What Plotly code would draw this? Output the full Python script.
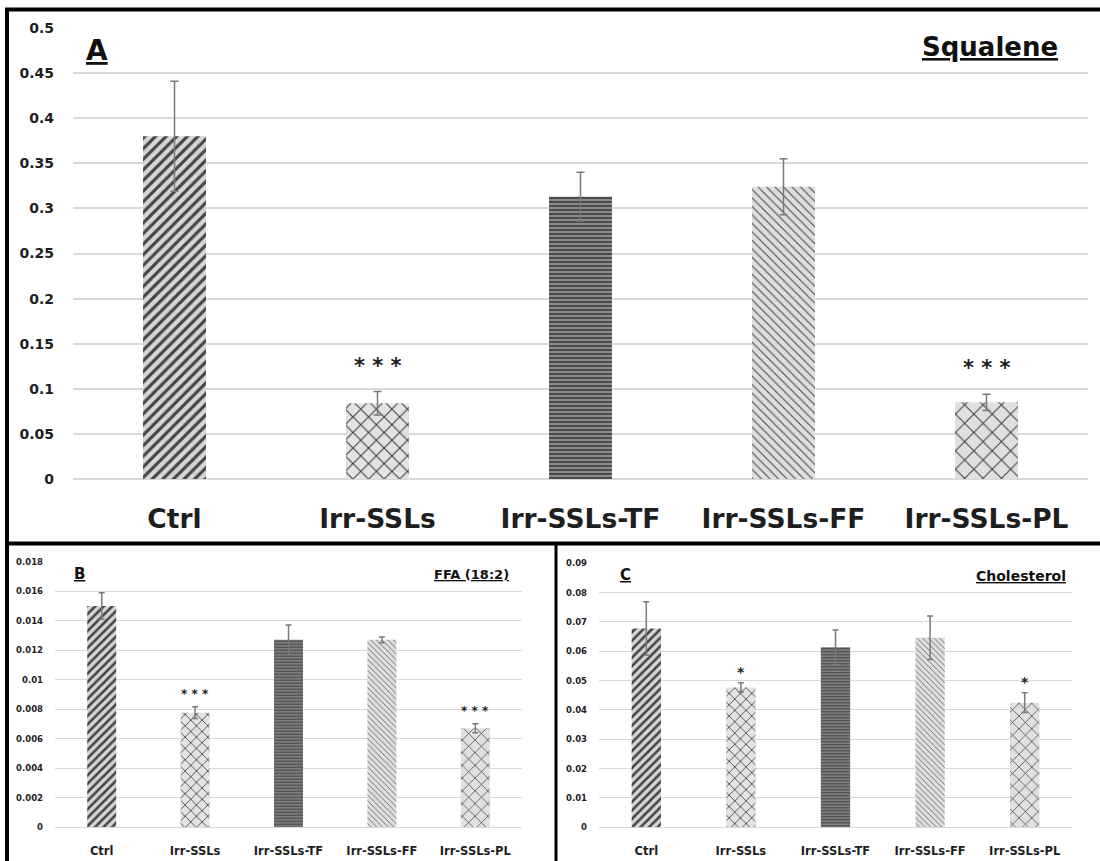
import plotly.graph_objects as go

# ---------------- data ----------------
categories = ["Ctrl", "Irr-SSLs", "Irr-SSLs-TF", "Irr-SSLs-FF", "Irr-SSLs-PL"]

squalene = [0.380, 0.084, 0.313, 0.324, 0.085]
squalene_err = [0.061, 0.013, 0.027, 0.031, 0.009]

ffa = [0.0150, 0.00776, 0.0127, 0.0127, 0.0067]
ffa_err = [0.0009, 0.0004, 0.0010, 0.0002, 0.0003]

chol = [0.0678, 0.0477, 0.0614, 0.0646, 0.0425]
chol_err = [0.0091, 0.0016, 0.0059, 0.0074, 0.0034]

sig_a = ["", "* * *", "", "", "* * *"]
sig_b = ["", "* * *", "", "", "* * *"]
sig_c = ["", "*", "", "", "*"]

ticks_a = [0, 0.05, 0.1, 0.15, 0.2, 0.25, 0.3, 0.35, 0.4, 0.45, 0.5]
ticktext_a = ["0", "0.05", "0.1", "0.15", "0.2", "0.25", "0.3", "0.35", "0.4", "0.45", "0.5"]
ticks_b = [0, 0.002, 0.004, 0.006, 0.008, 0.01, 0.012, 0.014, 0.016, 0.018]
ticktext_b = ["0", "0.002", "0.004", "0.006", "0.008", "0.01", "0.012", "0.014", "0.016", "0.018"]
ticks_c = [0, 0.01, 0.02, 0.03, 0.04, 0.05, 0.06, 0.07, 0.08, 0.09]
ticktext_c = ["0", "0.01", "0.02", "0.03", "0.04", "0.05", "0.06", "0.07", "0.08", "0.09"]

# ---------------- styles ----------------
FONT = "DejaVu Sans"
TXT = "#1e1e1e"
pat_shape = ["/", "x", "-", "\\", "x"]
pat_fg = ["#111111", "#5c5c5c", "#3a3a3a", "#7a7a7a", "#5a5a5a"]
pat_bg = ["#d6d6d6", "#e3e3e3", "#8a8a8a", "#dedede", "#e0e0e0"]
pat_sol = [0.42, 0.2, 0.45, 0.17, 0.16]

W, H = 1100, 861
OFF, S = 8, 0.9814   # vertical placement correction of the photographed page


def px(xp):
    return xp / W


def py(yp):
    return 1 - ((yp - OFF) / S) / H


fig = go.Figure()

panels = [
    dict(vals=squalene, err=squalene_err, sig=sig_a, ax="", sizes=[7.5, 11, 4, 6, 13], ew=4, sigsize=21, sigshift=12),
    dict(vals=ffa, err=ffa_err, sig=sig_b, ax="2", sizes=[6, 8, 3, 4, 9], ew=3, sigsize=12, sigshift=4),
    dict(vals=chol, err=chol_err, sig=sig_c, ax="3", sizes=[6, 8, 3, 4, 9], ew=3, sigsize=14, sigshift=1),
]

for p in panels:
    fig.add_trace(go.Bar(
        x=categories, y=p["vals"],
        xaxis="x" + p["ax"], yaxis="y" + p["ax"],
        width=0.31,
        marker=dict(
            color=pat_bg,
            line=dict(width=0),
            pattern=dict(shape=pat_shape, fgcolor=pat_fg, bgcolor=pat_bg, fgopacity=1,
                         size=p["sizes"], solidity=pat_sol, fillmode="overlay"),
        ),
        error_y=dict(type="data", array=p["err"], visible=True,
                     color="#7a7a7a", thickness=1.5, width=p["ew"]),
        showlegend=False,
        hoverinfo="skip",
    ))
    for c, v, e, s in zip(categories, p["vals"], p["err"], p["sig"]):
        if s:
            fig.add_annotation(x=c, y=v + e, xref="x" + p["ax"], yref="y" + p["ax"],
                               text="<b>" + s + "</b>", showarrow=False, yanchor="bottom",
                               yshift=p["sigshift"],
                               font=dict(family=FONT, size=p["sigsize"], color=TXT))

grid = "#d9d9d9"

fig.update_layout(
    width=W, height=H,
    margin=dict(l=0, r=0, t=0, b=0),
    paper_bgcolor="white", plot_bgcolor="white",
    font=dict(family=FONT, color=TXT),
    xaxis=dict(domain=[px(73), px(1088)], anchor="y",
               tickfont=dict(family=FONT, size=26.5, color=TXT, weight="bold"),
               ticklabelstandoff=21, showgrid=False, showline=False, ticks=""),
    yaxis=dict(domain=[py(479), py(28)], anchor="x", range=[0, 0.5],
               tickvals=ticks_a, ticktext=ticktext_a,
               tickfont=dict(family=FONT, size=14, color=TXT, weight="bold"),
               ticklabelstandoff=18, gridcolor=grid, gridwidth=1.5,
               zeroline=True, zerolinecolor=grid, zerolinewidth=1.5, showline=False),
    xaxis2=dict(domain=[px(55), px(522)], anchor="y2",
                tickfont=dict(family=FONT, size=11.5, color=TXT, weight="bold"),
                ticklabelstandoff=15, showgrid=False, showline=False, ticks=""),
    yaxis2=dict(domain=[py(827), py(561.7)], anchor="x2", range=[0, 0.018],
                tickvals=ticks_b, ticktext=ticktext_b,
                tickfont=dict(family=FONT, size=8.5, color=TXT, weight="bold"),
                ticklabelstandoff=11, gridcolor=grid, gridwidth=1,
                zeroline=True, zerolinecolor=grid, zerolinewidth=1, showline=False),
    xaxis3=dict(domain=[px(599), px(1072)], anchor="y3",
                tickfont=dict(family=FONT, size=11.5, color=TXT, weight="bold"),
                ticklabelstandoff=15, showgrid=False, showline=False, ticks=""),
    yaxis3=dict(domain=[py(827.3), py(563.3)], anchor="x3", range=[0, 0.09],
                tickvals=ticks_c, ticktext=ticktext_c,
                tickfont=dict(family=FONT, size=8.5, color=TXT, weight="bold"),
                ticklabelstandoff=11, gridcolor=grid, gridwidth=1,
                zeroline=True, zerolinecolor=grid, zerolinewidth=1, showline=False),
)

# panel labels and titles
labels = [
    ("<u>A</u>", 97, 50, 28, "center"),
    ("<u>Squalene</u>", 1060, 47, 26, "right"),
    ("<u>B</u>", 79.5, 574, 15, "center"),
    ("<u>FFA (18:2)</u>", 511, 574, 13, "right"),
    ("<u>C</u>", 625, 575, 15, "center"),
    ("<u>Cholesterol</u>", 1068, 576, 14, "right"),
]
for t, xp, yp, sz, xa in labels:
    fig.add_annotation(x=px(xp), y=py(yp), xref="paper", yref="paper", text="<b>" + t + "</b>",
                       showarrow=False, xanchor=xa, yanchor="middle",
                       font=dict(family=FONT, size=sz, color="#111111"))

# panel borders
borders = [
    (5, 9.5, 1100, 9.5, 4),
    (7, 8, 7, 870, 4),
    (5, 543.5, 1100, 543.5, 4),
    (556, 543, 556, 870, 3),
]
for x0, y0, x1, y1, w in borders:
    fig.add_shape(type="line", xref="paper", yref="paper",
                  x0=px(x0), y0=py(y0), x1=px(x1), y1=py(y1),
                  line=dict(color="black", width=w))

fig.write_html("out.html", config={"displayModeBar": False},
               post_script="document.body.style.margin='0px';document.body.style.overflow='hidden';")
